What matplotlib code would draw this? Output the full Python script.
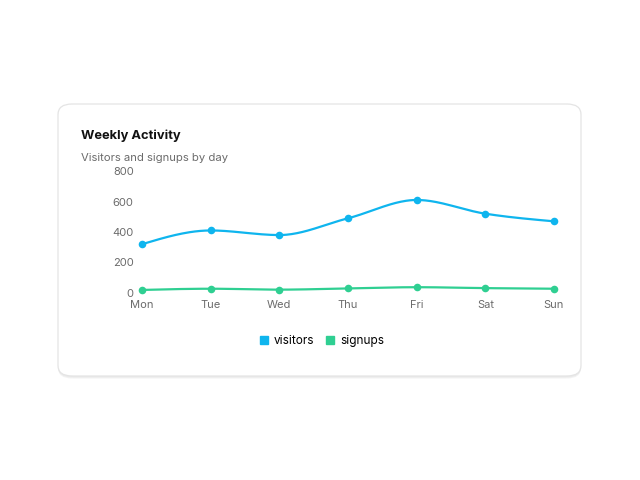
import numpy as np
import matplotlib
matplotlib.use("Agg")
import matplotlib.pyplot as plt
from matplotlib.patches import FancyBboxPatch
from matplotlib.lines import Line2D

days = ["Mon", "Tue", "Wed", "Thu", "Fri", "Sat", "Sun"]
visitors = [320, 410, 380, 490, 610, 520, 470]
signups = [20, 28, 22, 30, 38, 32, 28]
y_ticks = [0, 200, 400, 600, 800]

BLUE = "#0fb5ee"
GREEN = "#2fcf92"

plt.rcParams["font.family"] = ["Inter", "DejaVu Sans"]


def monotone(x, y, n=40):
    # monotone cubic (like d3 curveMonotoneX)
    x = np.asarray(x, float)
    y = np.asarray(y, float)
    h = np.diff(x)
    d = np.diff(y) / h
    m = np.zeros_like(y)
    for i in range(1, len(y) - 1):
        if d[i - 1] * d[i] <= 0:
            m[i] = 0
        else:
            m[i] = (d[i - 1] * h[i] + d[i] * h[i - 1]) / (h[i] + h[i - 1])
            m[i] = np.sign(m[i]) * min(abs(m[i]), 3 * min(abs(d[i - 1]), abs(d[i])))
    m[0] = (3 * d[0] - m[1]) / 2
    m[-1] = (3 * d[-1] - m[-2]) / 2
    xs, ys = [], []
    for i in range(len(x) - 1):
        t = np.linspace(0, 1, n)
        h00 = 2 * t**3 - 3 * t**2 + 1
        h10 = t**3 - 2 * t**2 + t
        h01 = -2 * t**3 + 3 * t**2
        h11 = t**3 - t**2
        xs.append(x[i] + t * h[i])
        ys.append(h00 * y[i] + h10 * h[i] * m[i] + h01 * y[i + 1] + h11 * h[i] * m[i + 1])
    return np.concatenate(xs), np.concatenate(ys)


fig = plt.figure(figsize=(6.4, 4.8), dpi=100)
fig.patch.set_facecolor("white")

# card with soft shadow
for off, col in [(2.5, "#f3f3f3"), (1.5, "#ebebeb")]:
    sh = FancyBboxPatch((58 / 640, 1 - (376 + off) / 480), 523 / 640, 272 / 480,
                        boxstyle="round,pad=0,rounding_size=0.022",
                        transform=fig.transFigure, facecolor=col,
                        edgecolor="none", zorder=0)
    fig.patches.append(sh)
card = FancyBboxPatch((58 / 640, 1 - 376 / 480), 523 / 640, 272 / 480,
                      boxstyle="round,pad=0,rounding_size=0.022",
                      transform=fig.transFigure, facecolor="white",
                      edgecolor="#e4e4e4", linewidth=0.9, zorder=1)
fig.patches.append(card)

fig.text(81 / 640, 1 - 136 / 480, "Weekly Activity", fontsize=9.3, fontweight="bold",
         color="#111111", va="center", ha="left")
fig.text(81 / 640, 1 - 158 / 480, "Visitors and signups by day", fontsize=8.1,
         color="#6b6b6b", va="center", ha="left")

ax = fig.add_axes([142 / 640, 1 - 293 / 480, (554 - 142) / 640, (293 - 171) / 480])
ax.set_facecolor("none")
ax.set_zorder(2)
x = np.arange(len(days))
for vals, col in [(visitors, BLUE), (signups, GREEN)]:
    sx, sy = monotone(x, vals)
    ax.plot(sx, sy, color=col, linewidth=1.6, solid_capstyle="round", clip_on=False)
    ax.scatter(x, vals, color=col, s=30, zorder=3, clip_on=False, linewidths=0)

ax.set_xlim(0, len(days) - 1)
ax.set_ylim(0, 800)
ax.set_yticks(y_ticks)
ax.set_xticks(x)
ax.set_xticklabels(days)
for s in ax.spines.values():
    s.set_visible(False)
ax.tick_params(length=0, labelsize=8, labelcolor="#6b6b6b", pad=6)
ax.tick_params(axis="x", pad=5)

handles = [Line2D([], [], marker="s", linestyle="none", color=BLUE, markersize=6),
           Line2D([], [], marker="s", linestyle="none", color=GREEN, markersize=6)]
fig.legend(handles, ["visitors", "signups"], loc="center", ncol=2,
           bbox_to_anchor=(321 / 640, 1 - 341 / 480), frameon=False, fontsize=8.5,
           handletextpad=0.3, columnspacing=0.9, handlelength=1.0)

fig.savefig("out.png", dpi=100)
